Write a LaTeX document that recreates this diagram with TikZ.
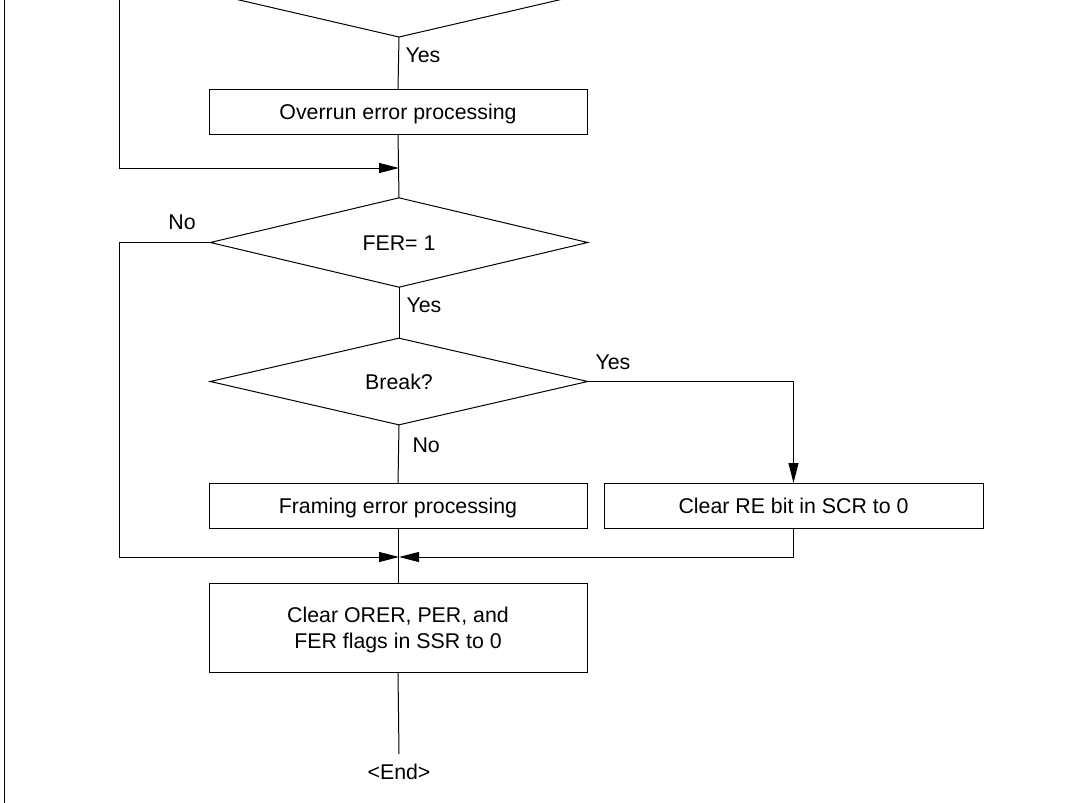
\documentclass[tikz,border=0pt]{standalone}
\usepackage{fontspec}
\setmainfont{Liberation Sans}
\usetikzlibrary{shapes.geometric,arrows.meta}
\begin{document}
\begin{tikzpicture}[x=0.75pt,y=-0.75pt,
  line width=0.75pt,
  font=\fontsize{16}{19.5}\selectfont,
  procbox/.style={draw,rectangle,inner sep=0pt,outer sep=0pt,minimum width=283.5pt,minimum height=33.75pt,align=center},
  oneline/.style={text height=11.5pt,text depth=0pt},
  decision/.style={draw,diamond,inner sep=0pt,outer sep=0pt,minimum width=283pt,minimum height=67pt},
  lbl/.style={inner sep=0pt,anchor=west},
  arr/.style={-{Triangle[length=15pt,width=7.5pt]}}]
\useasboundingbox (0,0) rectangle (1089,803);
\clip (0,0) rectangle (1089,803);
% frame line
\draw (4.5,-5) -- (4.5,810);
% nodes
\node[decision,minimum width=285pt,minimum height=66pt] (d0) at (399,-7) {};
\node[procbox,oneline] (ov) at (398,111.5) {Overrun error processing};
\node[decision,oneline] (fer) at (399,242.5) {FER= 1};
\node[decision,oneline,minimum height=65pt] (brk) at (399,381.5) {Break?};
\node[procbox,oneline] (fr) at (398,505.5) {Framing error processing};
\node[procbox,oneline,minimum width=284.25pt] (cre) at (793.5,505.5) {Clear RE bit in SCR to 0};
\node[procbox,minimum height=66.75pt] (clr) at (398,627.5) {\rule{0pt}{15pt}Clear ORER, PER, and\\FER flags in SSR to 0};
\node[inner sep=0pt,oneline] (endn) at (399,772) {<End>};
\coordinate (j1) at (399,168);
\coordinate (j2) at (399,557);
\coordinate (endl) at (399,754);
% labels
\node[lbl,oneline] (y0) at (405,55) {Yes};
\node[inner sep=0pt,oneline] (n1) at (182,222) {No};
\node[lbl,oneline] (y1) at (406,305) {Yes};
\node[lbl,oneline] (y2) at (595,362) {Yes};
\node[lbl,oneline] (n2) at (412,445) {No};
% connectors
\draw (d0.south) -- (ov.north);
\draw (ov.south) -- (fer.north);
\draw[arr] (d0.west) -- (119,-7) -- (119,168) -- (j1);
\draw (fer.south) -- (brk.north);
\draw[arr] (fer.west) -- (119,242.5) -- (119,557) -- (j2);
\draw[arr] (brk.east) -- (793.5,381.5) -- (cre.north);
\draw (brk.south) -- (fr.north);
\draw (fr.south) -- (clr.north);
\draw[arr] (cre.south) -- (793.5,557) -- (j2);
\draw (clr.south) -- (endl);
\end{tikzpicture}
\end{document}
